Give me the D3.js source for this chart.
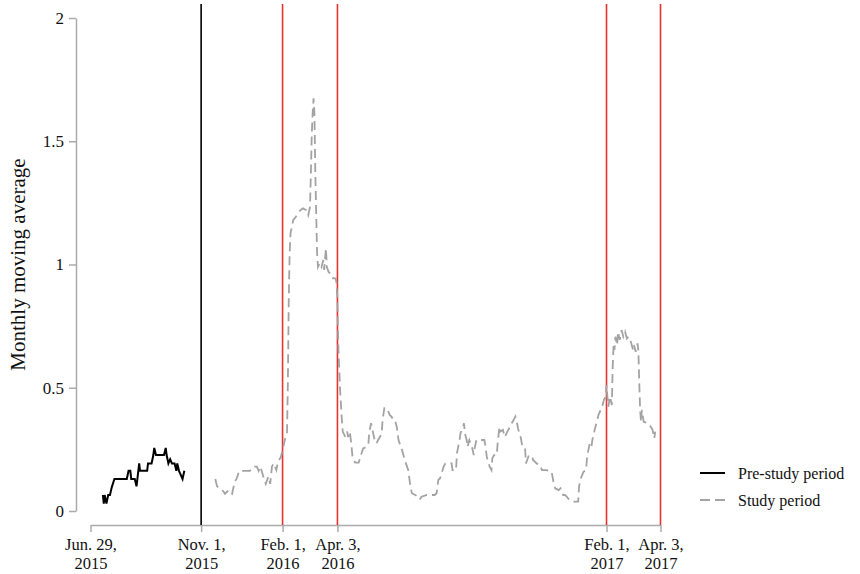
<!DOCTYPE html>
<html>
<head>
<meta charset="utf-8">
<script src="https://cdn.jsdelivr.net/npm/d3@7/dist/d3.min.js"></script>
<style>
  html, body { margin: 0; padding: 0; background: #fff; }
  svg { display: block; }
  text { font-family: "Liberation Serif", "Times New Roman", serif; fill: #111; }
</style>
</head>
<body>
<svg id="chart" width="860" height="574"></svg>
<script>
// ---- data (days counted from Jun. 29, 2015) ----
const originDate = "2015-06-29";
const endDate = "2017-04-03";

const tickDates = ["2015-06-29", "2015-11-01", "2016-02-01", "2016-04-03", "2017-02-01", "2017-04-03"];
const tickLines1 = ["Jun. 29,", "Nov. 1,", "Feb. 1,", "Apr. 3,", "Feb. 1,", "Apr. 3,"];
const tickLines2 = ["2015", "2015", "2016", "2016", "2017", "2017"];
const yTicks = [0, 0.5, 1, 1.5, 2];

const blackMarkerDates = ["2015-11-01"];
const redMarkerDates = ["2016-02-01", "2016-04-03", "2017-02-01", "2017-04-03"];

const preDays = [14,15,16,18,20,22,24,27,41,43,45,46,50,52,55,56,64,65,69,71,72,74,83,85,86,88,90,92,95,97,98,100,104,106];
const preValues = [0.065,0.03,0.065,0.03,0.065,0.065,0.096,0.13,0.13,0.163,0.163,0.13,0.13,0.10,0.193,0.163,0.163,0.193,0.193,0.227,0.256,0.227,0.227,0.256,0.227,0.193,0.21,0.193,0.193,0.163,0.193,0.163,0.13,0.163];

const studyDays = [141,143,150,152,156,160,163,165,168,180,184,188,190,192,196,198,201,203,205,207,210,211,213,215,217,220,222,223,224,225,226,229,232,237,240,244,246,248,249,250,251,252,253,254,255,256,257,259,261,263,264,266,267,269,273,274,277,278,279,280,282,284,285,288,290,291,293,295,296,299,303,305,308,312,314,315,317,319,321,323,325,327,329,330,332,335,338,340,342,344,346,348,352,355,359,361,363,367,370,372,374,380,389,391,393,395,399,401,408,409,413,414,417,418,421,422,423,425,426,428,431,433,434,436,445,446,448,449,451,453,454,456,459,460,462,463,466,468,471,476,479,480,482,483,486,488,491,492,495,499,500,504,508,510,515,521,523,525,529,531,534,536,538,541,546,551,552,554,557,560,561,564,566,567,570,574,578,580,582,583,584,585,587,589,590,591,592,593,595,596,598,600,602,604,606,608,610,613,614,616,618,619,620,621,622,623,625,630,633,635,637,638];
const studyValues = [0.13,0.10,0.08,0.07,0.085,0.07,0.12,0.13,0.163,0.163,0.18,0.18,0.163,0.18,0.13,0.11,0.14,0.11,0.18,0.193,0.166,0.186,0.207,0.218,0.247,0.295,0.315,0.52,0.86,1.045,1.127,1.18,1.194,1.22,1.228,1.22,1.2,1.234,1.37,1.53,1.613,1.674,1.613,1.37,1.21,1.045,0.99,1.005,0.99,1.018,0.978,1.066,0.99,0.97,0.957,0.944,0.944,0.924,0.856,0.667,0.49,0.369,0.322,0.30,0.322,0.30,0.322,0.26,0.22,0.196,0.196,0.22,0.254,0.26,0.274,0.322,0.356,0.322,0.288,0.274,0.288,0.30,0.315,0.369,0.417,0.417,0.39,0.383,0.369,0.369,0.342,0.288,0.247,0.207,0.166,0.112,0.072,0.065,0.058,0.047,0.058,0.065,0.065,0.072,0.126,0.133,0.18,0.193,0.193,0.166,0.166,0.234,0.288,0.315,0.342,0.356,0.315,0.288,0.26,0.288,0.26,0.227,0.254,0.288,0.288,0.268,0.214,0.207,0.18,0.166,0.214,0.227,0.227,0.274,0.342,0.322,0.329,0.30,0.322,0.356,0.376,0.383,0.356,0.335,0.30,0.26,0.254,0.193,0.223,0.223,0.207,0.193,0.187,0.166,0.166,0.159,0.119,0.092,0.085,0.092,0.065,0.065,0.058,0.045,0.038,0.038,0.10,0.133,0.159,0.166,0.22,0.274,0.26,0.288,0.335,0.39,0.423,0.45,0.464,0.511,0.464,0.423,0.464,0.43,0.585,0.68,0.653,0.707,0.673,0.727,0.694,0.734,0.707,0.727,0.70,0.707,0.694,0.653,0.673,0.646,0.68,0.653,0.518,0.41,0.362,0.41,0.362,0.356,0.342,0.329,0.295,0.322];

const legendLabels = ["Pre-study period", "Study period"];

// ---- chart ----
const parse = d3.timeParse("%Y-%m-%d");
const origin = parse(originDate);
const svg = d3.select("#chart");

const x = d3.scaleTime().domain([origin, parse(endDate)]).range([90.5, 660.5]);
const y = d3.scaleLinear().domain([0, 2]).range([511, 18]);

const axisGray = "#ababab";
const redCol = "#e8322f";
const studyGray = "#a3a3a3";
const axisBase = 525;

// y axis
const yAxis = svg.append("g")
  .attr("transform", "translate(76,0)")
  .call(d3.axisLeft(y).tickValues(yTicks).tickFormat(d => String(d)).tickSize(7).tickSizeOuter(0).tickPadding(5));
yAxis.select(".domain").attr("stroke", axisGray).attr("stroke-width", 1.5);
yAxis.selectAll(".tick line").attr("stroke", axisGray).attr("stroke-width", 1.5);
yAxis.selectAll(".tick text").attr("font-size", 17).attr("font-family", "Liberation Serif").attr("fill", "#111");

// x axis
const xAxis = svg.append("g")
  .attr("transform", `translate(0,${axisBase})`)
  .call(d3.axisBottom(x).tickValues(tickDates.map(parse)).tickSize(7).tickSizeOuter(0).tickFormat(() => ""));
xAxis.select(".domain").attr("stroke", axisGray).attr("stroke-width", 1.5);
xAxis.selectAll(".tick line").attr("stroke", axisGray).attr("stroke-width", 1.5);
xAxis.selectAll(".tick text").remove();
xAxis.selectAll(".tick").each(function(d, i) {
  const g = d3.select(this);
  g.append("text")
    .attr("text-anchor", "middle")
    .attr("font-size", 16.5)
    .attr("font-family", "Liberation Serif")
    .attr("fill", "#111")
    .attr("x", 0).attr("y", 25)
    .text(tickLines1[i]);
  g.append("text")
    .attr("text-anchor", "middle")
    .attr("font-size", 16.5)
    .attr("font-family", "Liberation Serif")
    .attr("fill", "#111")
    .attr("x", 0).attr("y", 44)
    .text(tickLines2[i]);
});

// vertical marker lines
svg.selectAll("line.blackMark").data(blackMarkerDates.map(parse)).enter()
  .append("line").attr("class", "blackMark")
  .attr("x1", d => x(d)).attr("x2", d => x(d))
  .attr("y1", 4).attr("y2", axisBase)
  .attr("stroke", "#000").attr("stroke-width", 1.6);

svg.selectAll("line.redMark").data(redMarkerDates.map(parse)).enter()
  .append("line").attr("class", "redMark")
  .attr("x1", d => x(d)).attr("x2", d => x(d))
  .attr("y1", 4).attr("y2", axisBase)
  .attr("stroke", redCol).attr("stroke-width", 1.6);

// series
const line = d3.line()
  .x(d => x(d3.timeDay.offset(origin, d[0])))
  .y(d => y(d[1]));

svg.append("path")
  .datum(studyDays.map((d, i) => [d, studyValues[i]]))
  .attr("d", line)
  .attr("fill", "none")
  .attr("stroke", studyGray)
  .attr("stroke-width", 1.8)
  .attr("stroke-dasharray", "9,5");

svg.append("path")
  .datum(preDays.map((d, i) => [d, preValues[i]]))
  .attr("d", line)
  .attr("fill", "none")
  .attr("stroke", "#000")
  .attr("stroke-width", 2);

// y title
svg.append("text")
  .attr("transform", `translate(25,${(y(0) + y(2)) / 2}) rotate(-90)`)
  .attr("text-anchor", "middle")
  .attr("font-size", 21)
  .text("Monthly moving average");

// legend
const legendY = [473, 500];
const leg = svg.append("g");
leg.append("line").attr("x1", 700).attr("x2", 725).attr("y1", legendY[0]).attr("y2", legendY[0])
  .attr("stroke", "#000").attr("stroke-width", 2);
leg.append("line").attr("x1", 700).attr("x2", 725).attr("y1", legendY[1]).attr("y2", legendY[1])
  .attr("stroke", studyGray).attr("stroke-width", 1.8).attr("stroke-dasharray", "10,5");
legendLabels.forEach((lab, i) => {
  leg.append("text").attr("x", 738).attr("y", legendY[i] + 5.5)
    .attr("font-size", 16).text(lab);
});
</script>
</body>
</html>
